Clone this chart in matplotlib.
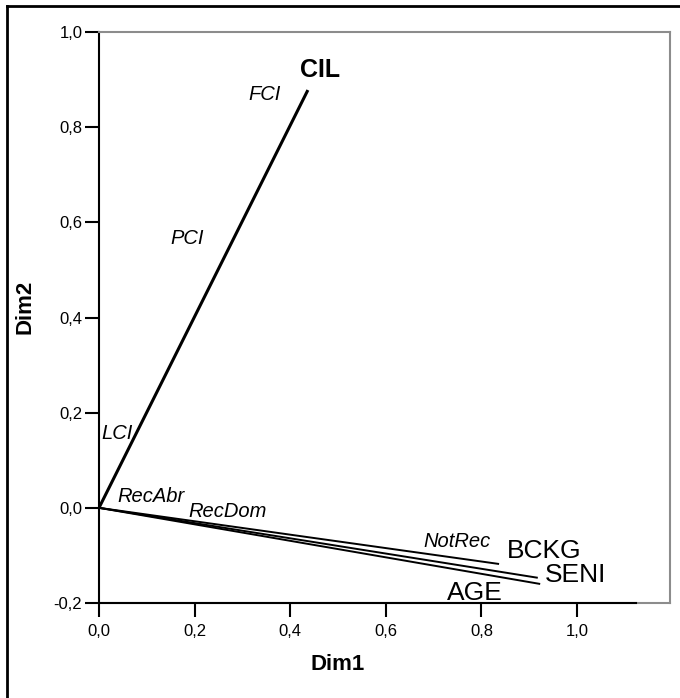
import matplotlib
matplotlib.use('Agg')
import matplotlib.pyplot as plt
from matplotlib.lines import Line2D

plt.rcParams['font.family'] = ['Liberation Sans', 'DejaVu Sans']

# Vector endpoints (component loadings)
VarNames = ['CIL', 'BCKG', 'SENI', 'AGE']
VarX = [0.437, 0.837, 0.918, 0.923]
VarY = [0.878, -0.118, -0.147, -0.160]

# Label positions for the variables
VarLabelX = [0.462, 0.931, 0.998, 0.787]
VarLabelY = [0.905, -0.105, -0.156, -0.194]

# Category labels (italic)
CatNames = ['FCI', 'PCI', 'LCI', 'RecAbr', 'RecDom', 'NotRec']
CatX = [0.347, 0.184, 0.038, 0.109, 0.270, 0.749]
CatY = [0.857, 0.554, 0.145, 0.012, -0.019, -0.082]

# Ticks
XTicks = [0.0, 0.2, 0.4, 0.6, 0.8, 1.0]
XTickLabels = ['0,0', '0,2', '0,4', '0,6', '0,8', '1,0']
YTicks = [-0.2, 0.0, 0.2, 0.4, 0.6, 0.8, 1.0]
YTickLabels = ['-0,2', '0,0', '0,2', '0,4', '0,6', '0,8', '1,0']

W, H = 680, 698
fig = plt.figure(figsize=(W/100, H/100), dpi=100)
ax = fig.add_axes([99/W, 1-603/H, (670-99)/W, (603-32)/H])
ax.set_xlim(0, 1.1946)
ax.set_ylim(-0.2, 1.0)

# vectors from origin
for ct in range(len(VarNames)):
    if VarNames[ct] == 'CIL':
        lw = 2.2
    else:
        lw = 1.4
    ax.plot([0, VarX[ct]], [0, VarY[ct]], '-', color='black', linewidth=lw, solid_capstyle='butt')

for ct in range(len(VarNames)):
    if VarNames[ct] == 'CIL':
        ax.text(VarLabelX[ct], VarLabelY[ct], VarNames[ct], fontsize=18, fontweight='bold',
                ha='center', va='baseline')
    else:
        ax.text(VarLabelX[ct], VarLabelY[ct], VarNames[ct], fontsize=19, ha='center', va='baseline')

for ct in range(len(CatNames)):
    ax.text(CatX[ct], CatY[ct], CatNames[ct], fontsize=14.5, style='italic', ha='center', va='baseline')

# frame gray, axis lines black
for s in ['top', 'right', 'bottom']:
    ax.spines[s].set_color('#8c8c8c')
    ax.spines[s].set_linewidth(1.5)
ax.spines['left'].set_color('black')
ax.spines['left'].set_linewidth(1.5)
ax.plot([0, 1.123], [-0.2, -0.2], '-', color='black', linewidth=1.5, clip_on=False, zorder=5)

ax.set_xticks(XTicks)
ax.set_xticklabels(XTickLabels)
ax.set_yticks(YTicks)
ax.set_yticklabels(YTickLabels)
ax.tick_params(axis='both', which='major', labelsize=12, length=10, width=1.5, direction='out')
ax.tick_params(axis='x', pad=5)
ax.tick_params(axis='y', pad=2)

fig.text(338/W, 1-665/H, 'Dim1', fontsize=16, fontweight='bold', ha='center', va='center')
fig.text(25/W, 1-307/H, 'Dim2', fontsize=16, fontweight='bold', ha='center', va='center', rotation=90)

# outer border (left and top only visible)
fig.add_artist(Line2D([7/W, 7/W], [0, 1-6/H], color='black', linewidth=2))
fig.add_artist(Line2D([7/W, 1], [1-6/H, 1-6/H], color='black', linewidth=2))

plt.savefig('out.png', dpi=100)
plt.close()
